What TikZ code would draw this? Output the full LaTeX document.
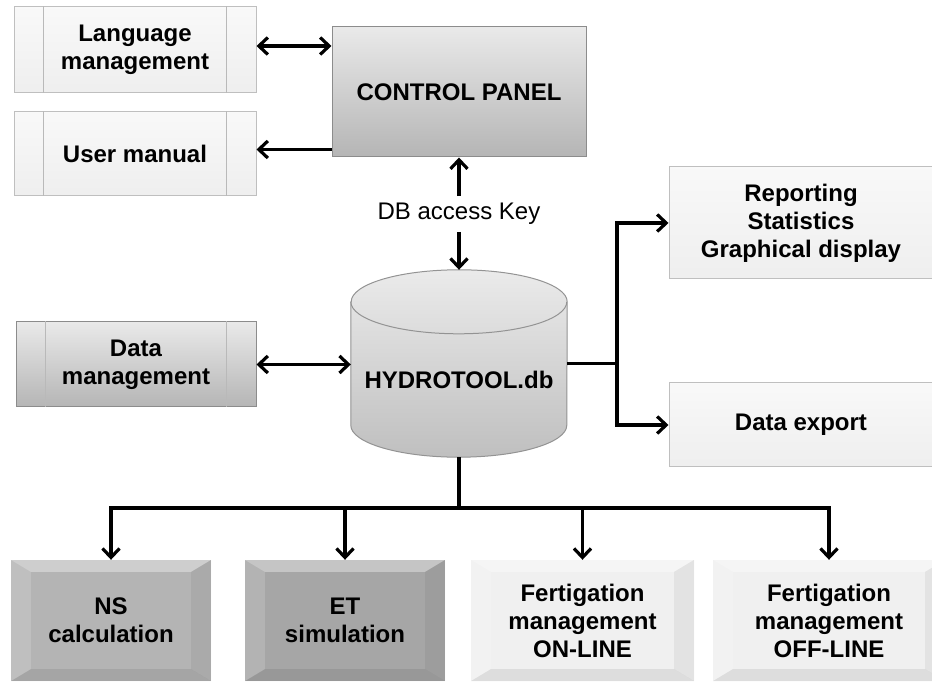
\documentclass[tikz,border=0pt]{standalone}
\usepackage{fontspec}
\setmainfont{Liberation Sans}
\usetikzlibrary{arrows.meta}
\begin{document}
\begin{tikzpicture}[x=1pt,y=1pt,line join=miter,
  font=\fontsize{24}{28}\selectfont\bfseries,
  >={Straight Barb[length=9pt,width=17pt]},
  box/.style={rectangle,align=center,inner sep=0pt},
  lightbox/.style={box,draw=gray!50,line width=1pt,top color=gray!5,bottom color=gray!13},
  greybox/.style={box,draw=gray!90,line width=1pt,top color=gray!17,bottom color=gray!58},
  bevelbox/.style={box,minimum width=200pt,minimum height=121pt},
  con/.style={line width=3.2pt}]
\useasboundingbox (0,0) rectangle (932,682);
% left column
\node[lightbox,minimum width=242pt,minimum height=86pt] (lang) at (135,632) {Language\\management};
\node[lightbox,minimum width=242pt,minimum height=84pt] (manual) at (135,528) {User manual};
\node[greybox,minimum width=240pt,minimum height=85pt] (data) at (136,317.5) {Data\\management};
\foreach \n in {lang,manual,data}{
  \draw[gray!55,line width=1pt] ([xshift=30pt]\n.north west) -- ([xshift=30pt]\n.south west);
  \draw[gray!55,line width=1pt] ([xshift=-30pt]\n.north east) -- ([xshift=-30pt]\n.south east);}
% control panel and data base
\node[greybox,minimum width=254pt,minimum height=130pt] (ctrl) at (459,590) {CONTROL PANEL};
\node[font=\fontsize{24}{28}\selectfont,inner sep=7pt] (key) at (459,468) {DB access Key};
\node[box,minimum width=216pt,minimum height=187pt] (db) at (459,318.5) {};
\shadedraw[top color=gray!16,bottom color=gray!50,draw=gray!85,line width=1pt]
  ([yshift=-32pt]db.north west) -- ([yshift=32pt]db.south west)
  arc[start angle=180,end angle=360,x radius=108,y radius=32]
  -- ([yshift=-32pt]db.north east)
  arc[start angle=0,end angle=180,x radius=108,y radius=32] -- cycle;
\draw[gray!85,line width=1pt] ([yshift=-32pt]db.north west)
  arc[start angle=180,end angle=360,x radius=108,y radius=32];
\node[box] (dbtext) at (459,302) {HYDROTOOL.db};
% right column
\node[lightbox,minimum width=264pt,minimum height=112pt] (report) at (801,459) {Reporting\\Statistics\\Graphical display};
\node[lightbox,minimum width=264pt,minimum height=84pt] (export) at (801,257) {Data export};
% bottom row
\node[bevelbox,fill=gray!59] (ns) at (111,61.5) {NS\\calculation};
\node[bevelbox,fill=gray!70] (et) at (345,61.5) {ET\\simulation};
\node[bevelbox,minimum width=223pt,fill=gray!12] (fon) at (582.5,61.5) {Fertigation\\management\\ON-LINE};
\node[bevelbox,minimum width=232pt,fill=gray!12] (foff) at (829,61.5) {Fertigation\\management\\OFF-LINE};
\foreach \n in {ns,et,fon,foff}{
  \fill[white,opacity=.35] (\n.north west) -- (\n.north east) -- ([shift={(-20pt,-12pt)}]\n.north east) -- ([shift={(20pt,-12pt)}]\n.north west) -- cycle;
  \fill[white,opacity=.15] (\n.north west) -- ([shift={(20pt,-12pt)}]\n.north west) -- ([shift={(20pt,12pt)}]\n.south west) -- (\n.south west) -- cycle;
  \fill[black,opacity=.05] (\n.north east) -- ([shift={(-20pt,-12pt)}]\n.north east) -- ([shift={(-20pt,12pt)}]\n.south east) -- (\n.south east) -- cycle;
  \fill[black,opacity=.08] (\n.south west) -- ([shift={(20pt,12pt)}]\n.south west) -- ([shift={(-20pt,12pt)}]\n.south east) -- (\n.south east) -- cycle;}
% connectors
\draw[con,<->] ([yshift=4pt]lang.east) -- ([yshift=4pt]lang.east -| ctrl.west);
\draw[con,->] ([yshift=8pt]ctrl.south west) -- ([yshift=8pt]ctrl.south west -| manual.east);
\draw[con,->] (key) -- (ctrl);
\draw[con,->] (key) -- (db);
\draw[con,<->] (data.east) -- (data.east -| db.west);
\coordinate (rsplit) at (617,318.5);
\draw[con] (db.east) -- (rsplit);
\draw[con,->] (rsplit) |- (report);
\draw[con,->] (rsplit) |- (export);
\coordinate (bsplit) at (459,174);
\draw[con] (db.south) -- (bsplit);
\foreach \n in {ns,et,fon,foff}{\draw[con,->] (bsplit) -| (\n);}
\end{tikzpicture}
\end{document}
